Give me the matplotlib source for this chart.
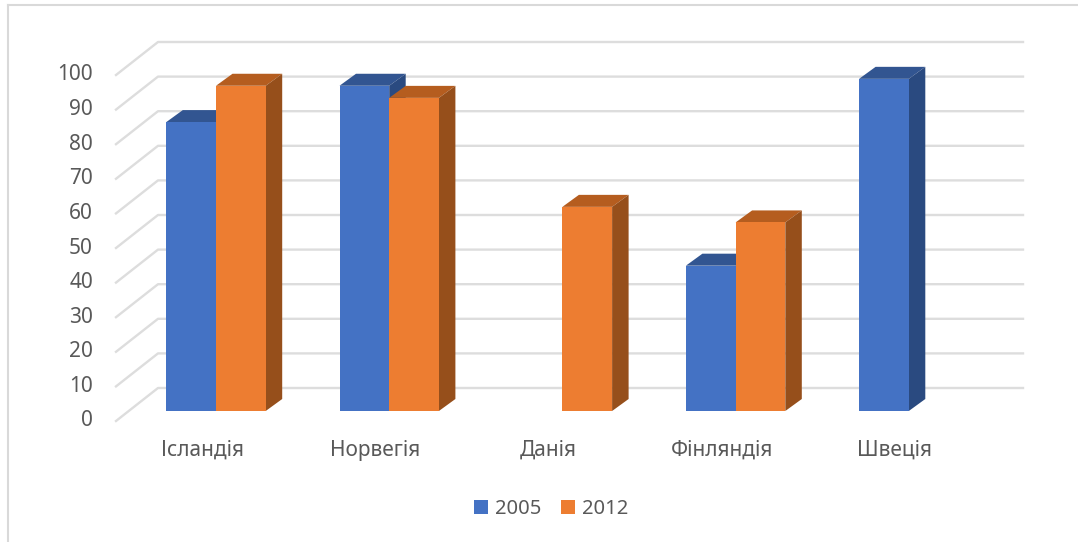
import matplotlib
matplotlib.use("Agg")
import matplotlib.pyplot as plt
from matplotlib.patches import Polygon, Patch

plt.rcParams['font.family'] = ['Noto Sans', 'DejaVu Sans']

countries = ['Ісландія', 'Норвегія', 'Данія', 'Фінляндія', 'Швеція']
years = ['2005', '2012']
values_2005 = [83.5, 94, None, 42, 96]
values_2012 = [94, 90.5, 59, 54.5, None]
ticks = [0, 10, 20, 30, 40, 50, 60, 70, 80, 90, 100]

W, H = 1078, 542
PX_X = 173.2   # pixels per category
PX_Y = 3.46    # pixels per value unit
X0_PX = 216    # category 0 centre
Y0_PX = 411    # bar base


def dx(px):
    return px / PX_X


def dy(px):
    return px / PX_Y


fig = plt.figure(figsize=(W / 100, H / 100), dpi=100)
ax = fig.add_axes([0, 0, 1, 1])
ax.set_xlim(-X0_PX / PX_X, (W - X0_PX) / PX_X)
ax.set_ylim((Y0_PX - H) / PX_Y, Y0_PX / PX_Y)
ax.axis('off')

## Frame of the picture
ax.plot([dx(8 - X0_PX), dx(8 - X0_PX)], [dy(Y0_PX - H), dy(Y0_PX - 5)], color='#D9D9D9', lw=1.5)
ax.plot([dx(8 - X0_PX), dx(W - X0_PX)], [dy(Y0_PX - 5), dy(Y0_PX - 5)], color='#D9D9D9', lw=1.5)

## Gridlines: floor/side part then back wall
x_front, x_back, x_end = dx(116 - X0_PX), dx(158 - X0_PX), dx(1023 - X0_PX)
y_front, y_back = dy(-10), dy(23)
for t in ticks:
    ax.plot([x_front, x_back, x_end], [t + y_front, t + y_back, t + y_back],
            color='#DDDDDD', lw=1.7, zorder=1, solid_joinstyle='round')
    ax.text(dx(93 - X0_PX), t + y_front, str(t), ha='right', va='center',
            fontsize=15, color='#595959')


def bar3d(left, width, height, front, top, side, z):
    ox, oy = dx(16.5), dy(12)
    right = left + width
    ax.add_patch(Polygon([(left, height), (right, height), (right + ox, height + oy), (left + ox, height + oy)],
                         facecolor=top, edgecolor='none', zorder=z))
    ax.add_patch(Polygon([(right, 0), (right + ox, oy), (right + ox, height + oy), (right, height)],
                         facecolor=side, edgecolor='none', zorder=z))
    ax.add_patch(Polygon([(left, 0), (right, 0), (right, height), (left, height)],
                         facecolor=front, edgecolor='none', zorder=z))


bar_w = dx(49.7)
for i in range(len(countries)):
    if values_2005[i] is not None:
        bar3d(i - bar_w, bar_w, values_2005[i], '#4472C4', '#325591', '#2A4A80', 3 + i * 2)
    if values_2012[i] is not None:
        bar3d(i, bar_w, values_2012[i], '#ED7D31', '#B55D1F', '#964F1B', 4 + i * 2)
    ax.text(i - dx(14), dy(-39.5), countries[i], ha='center', va='center',
            fontsize=15, color='#595959')

handles = [Patch(facecolor='#4472C4'), Patch(facecolor='#ED7D31')]
ax.legend(handles, years, loc='center', bbox_to_anchor=(551 / W, 1 - 509 / H), ncol=2, frameon=False,
          fontsize=14.5, labelcolor='#595959', handlelength=0.72, handleheight=0.72,
          handletextpad=0.35, columnspacing=0.95)

fig.savefig('out.png', dpi=100)
